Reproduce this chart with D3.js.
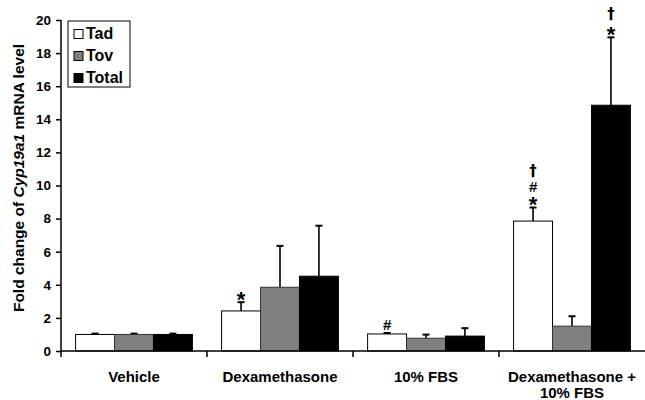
<!DOCTYPE html>
<html>
<head>
<meta charset="utf-8">
<script src="https://cdn.jsdelivr.net/npm/d3@7"></script>
<style>
  body { margin: 0; background: #fff; }
  svg text { font-family: "Liberation Sans", Arial, sans-serif; font-weight: bold; fill: #000; }
</style>
</head>
<body>
<div id="chart"></div>
<script>
// data
var categories = ["Vehicle", "Dexamethasone", "10% FBS", "Dexamethasone +|10% FBS"];
var series = ["Tad", "Tov", "Total"];
var colors = ["#ffffff", "#808080", "#000000"];
var tadMean = [1.0, 2.42, 1.03, 7.85];
var tadErr  = [0.05, 0.53, 0.06, 0.82];
var tovMean = [1.0, 3.85, 0.77, 1.5];
var tovErr  = [0.05, 2.5, 0.22, 0.6];
var totMean = [1.0, 4.52, 0.9, 14.85];
var totErr  = [0.05, 3.05, 0.48, 4.1];
var yTicks = [0, 2, 4, 6, 8, 10, 12, 14, 16, 18, 20];
// significance marks: [category index, series index, symbols bottom-to-top]
var marks = [[1, 0, ["*"]], [2, 0, ["#"]], [3, 0, ["*", "#", "†"]], [3, 2, ["*", "†"]]];

var means = [tadMean, tovMean, totMean];
var errs = [tadErr, tovErr, totErr];

var width = 645, height = 400;
var margin = {top: 20, right: 0, bottom: 49, left: 61};

var svg = d3.select("#chart").append("svg")
  .attr("width", width)
  .attr("height", height);

var x0 = d3.scaleBand()
  .domain(categories)
  .range([margin.left, width - margin.right])
  .paddingInner(0.2)
  .paddingOuter(0.1);

var x1 = d3.scaleBand()
  .domain(series)
  .range([0, x0.bandwidth()]);

var y = d3.scaleLinear()
  .domain([0, 20])
  .range([height - margin.bottom, margin.top]);

var rows = [];
categories.forEach(function(c, i) {
  series.forEach(function(s, j) {
    rows.push({cat: c, ser: s, j: j, v: means[j][i], e: errs[j][i]});
  });
});

function cx(d) { return x0(d.cat) + x1(d.ser) + x1.bandwidth() / 2; }

// error bars (drawn under bars)
var eb = svg.append("g").attr("class", "errors");
eb.selectAll("line.v").data(rows).enter().append("line")
  .attr("x1", cx).attr("x2", cx)
  .attr("y1", d => y(d.v))
  .attr("y2", d => y(d.v + d.e))
  .attr("stroke", "#000")
  .attr("stroke-width", 1.6);
eb.selectAll("line.c").data(rows).enter().append("line")
  .attr("x1", d => cx(d) - 3.5)
  .attr("x2", d => cx(d) + 3.5)
  .attr("y1", d => y(d.v + d.e))
  .attr("y2", d => y(d.v + d.e))
  .attr("stroke", "#000")
  .attr("stroke-width", 2);

svg.append("g").selectAll("rect").data(rows).enter().append("rect")
  .attr("x", d => x0(d.cat) + x1(d.ser))
  .attr("y", d => y(d.v))
  .attr("width", x1.bandwidth())
  .attr("height", d => y(0) - y(d.v))
  .attr("fill", d => colors[d.j])
  .attr("stroke", d => d.j == 1 ? "#333" : "#000")
  .attr("stroke-width", 1);

// significance symbols, stacked above the error bar cap
var glyphShift = {"*": 12.5, "#": 5, "†": 4.5};
var glyphSize = {"*": "22px", "#": "15px", "†": "15px"};
marks.forEach(function(m) {
  var d = {cat: categories[m[0]], ser: series[m[1]]};
  var cap = y(means[m[1]][m[0]] + errs[m[1]][m[0]]);
  m[2].forEach(function(sym, k) {
    var center = cap - 8 - 13 * k - (sym == "†" ? 2 : 0);
    svg.append("text")
      .attr("x", cx(d))
      .attr("y", center + glyphShift[sym])
      .attr("text-anchor", "middle")
      .style("font-size", glyphSize[sym])
      .style("font-family", sym == "†" ? "'DejaVu Sans', sans-serif" : null)
      .text(sym);
  });
});

// y axis
var yAxis = d3.axisLeft(y).tickValues(yTicks).tickSize(5).tickSizeOuter(0);
var gy = svg.append("g")
  .attr("transform", "translate(" + margin.left + ",0)")
  .call(yAxis);
gy.select(".domain").attr("d", "M0," + (y(0) + 6) + "V" + y(20));
gy.selectAll("path, line").attr("stroke", "#000").attr("stroke-width", 1.5);
gy.selectAll("text").style("font-size", "13.5px").attr("fill", "#000").attr("x", -10);

// x axis: baseline plus ticks between categories
var gx = svg.append("g");
gx.append("line")
  .attr("x1", margin.left).attr("x2", width)
  .attr("y1", y(0)).attr("y2", y(0))
  .attr("stroke", "#000").attr("stroke-width", 1.5);
gx.selectAll("line.t").data(categories.slice(1)).enter().append("line")
  .attr("x1", d => x0(d) - x0.step() * x0.paddingInner() / 2)
  .attr("x2", d => x0(d) - x0.step() * x0.paddingInner() / 2)
  .attr("y1", y(0)).attr("y2", y(0) + 6)
  .attr("stroke", "#000").attr("stroke-width", 1.5);
gx.selectAll("text.cat").data(categories).enter().append("text")
  .attr("x", d => x0(d) + x0.bandwidth() / 2)
  .attr("y", 382)
  .attr("text-anchor", "middle")
  .style("font-size", "15px")
  .each(function(d) {
    var parts = d.split("|");
    var t = d3.select(this);
    parts.forEach(function(p, i) {
      t.append("tspan")
        .attr("x", x0(d) + x0.bandwidth() / 2)
        .attr("dy", i == 0 ? 0 : 16)
        .text(p);
    });
  });

// y label
var yl = svg.append("text")
  .attr("transform", "translate(24,178) rotate(-90)")
  .attr("text-anchor", "middle")
  .style("font-size", "15.5px");
yl.append("tspan").text("Fold change of ");
yl.append("tspan").style("font-style", "italic").text("Cyp19a1");
yl.append("tspan").text(" mRNA level");

// legend
var lg = svg.append("g").attr("transform", "translate(68,21)");
lg.append("rect")
  .attr("width", 62).attr("height", 66)
  .attr("fill", "#fff").attr("stroke", "#000").attr("stroke-width", 1);
series.forEach(function(s, j) {
  lg.append("rect")
    .attr("x", 6).attr("y", 8.5 + j * 22)
    .attr("width", 9).attr("height", 9)
    .attr("fill", colors[j]).attr("stroke", "#000");
  lg.append("text")
    .attr("x", 18).attr("y", 18 + j * 22)
    .style("font-size", "16px")
    .text(s);
});
</script>
</body>
</html>
